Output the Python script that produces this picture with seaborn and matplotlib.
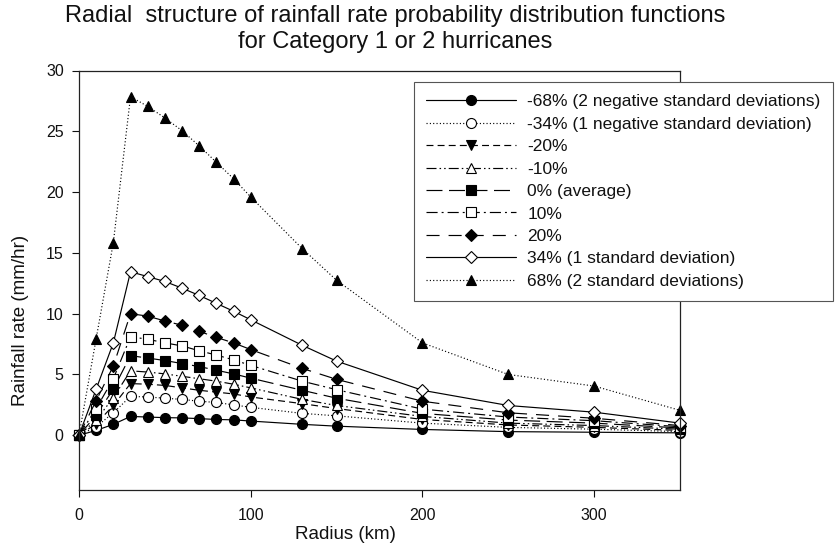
import matplotlib
matplotlib.use("Agg")
import matplotlib.pyplot as plt
import seaborn as sns

# ---- data ----
radius = [0, 10, 20, 30, 40, 50, 60, 70, 80, 90, 100, 130, 150, 200, 250, 300, 350]

neg68 = [0, 0.40, 0.90, 1.55, 1.50, 1.45, 1.43, 1.37, 1.30, 1.27, 1.17, 0.90, 0.75, 0.48, 0.30, 0.25, 0.20]
neg34 = [0, 0.70, 1.85, 3.20, 3.15, 3.05, 2.95, 2.80, 2.70, 2.50, 2.30, 1.80, 1.60, 1.00, 0.65, 0.50, 0.30]
neg20 = [0, 0.95, 2.45, 4.25, 4.20, 4.10, 3.90, 3.70, 3.55, 3.40, 3.15, 2.60, 2.20, 1.30, 0.85, 0.65, 0.40]
neg10 = [0, 1.25, 3.10, 5.30, 5.20, 5.05, 4.85, 4.65, 4.45, 4.20, 3.90, 2.95, 2.45, 1.55, 1.00, 0.80, 0.50]
avg0 = [0, 1.65, 3.80, 6.55, 6.35, 6.15, 5.90, 5.65, 5.35, 5.05, 4.70, 3.70, 3.05, 1.80, 1.25, 1.00, 0.60]
pos10 = [0, 2.20, 4.65, 8.10, 7.90, 7.60, 7.35, 6.95, 6.60, 6.20, 5.75, 4.45, 3.75, 2.15, 1.50, 1.20, 0.70]
pos20 = [0, 2.85, 5.70, 10.0, 9.80, 9.40, 9.05, 8.55, 8.05, 7.60, 7.05, 5.50, 4.60, 2.80, 1.85, 1.40, 0.80]
pos34 = [0, 3.80, 7.60, 13.45, 13.05, 12.65, 12.10, 11.50, 10.85, 10.20, 9.50, 7.40, 6.10, 3.70, 2.45, 1.90, 1.00]
pos68 = [0, 7.95, 15.85, 27.85, 27.05, 26.10, 25.05, 23.80, 22.45, 21.10, 19.60, 15.35, 12.75, 7.60, 5.00, 4.05, 2.05]

series = [neg68, neg34, neg20, neg10, avg0, pos10, pos20, pos34, pos68]
labels = [
    "-68% (2 negative standard deviations)",
    "-34% (1 negative standard deviation)",
    "-20%",
    "-10%",
    "0% (average)",
    "10%",
    "20%",
    "34% (1 standard deviation)",
    "68% (2 standard deviations)",
]

title = ("Radial  structure of rainfall rate probability distribution functions\n"
         "for Category 1 or 2 hurricanes")

# ---- styling ----
sns.set_theme(style="ticks")
plt.rcParams["font.family"] = ["Liberation Sans", "DejaVu Sans"]
plt.rcParams["lines.scale_dashes"] = False

dotted = (0, (0.8, 1.6))
styles = [
    dict(marker="o", markerfacecolor="black", markersize=7.2, linestyle="-"),
    dict(marker="o", markerfacecolor="white", markersize=7.2, linestyle=dotted),
    dict(marker="v", markerfacecolor="black", markersize=7.4, linestyle=(0, (5, 3))),
    dict(marker="^", markerfacecolor="white", markersize=7.4,
         linestyle=(0, (7.2, 2.2, 1.1, 2.2, 1.1, 2.2))),
    dict(marker="s", markerfacecolor="black", markersize=6.5, linestyle=(0, (11.5, 4.7))),
    dict(marker="s", markerfacecolor="white", markersize=6.5,
         linestyle=(0, (8, 2.9, 1.4, 2.9))),
    dict(marker="D", markerfacecolor="black", markersize=5.8, linestyle=(0, (9.4, 6.5))),
    dict(marker="D", markerfacecolor="white", markersize=5.8, linestyle="-"),
    dict(marker="^", markerfacecolor="black", markersize=7.4, linestyle=dotted),
]

fig = plt.figure(figsize=(8.36, 5.49), dpi=100)
ax = fig.add_axes([79 / 836, 59 / 549, 601 / 836, 419.5 / 549])

for vals, lab, st in zip(series, labels, styles):
    sns.lineplot(x=radius, y=vals, ax=ax, color="black", linewidth=0.85,
                 markeredgecolor="black", markeredgewidth=0.8,
                 clip_on=False, label=lab, **st)

ax.set_xlim(0, 350)
ax.set_ylim(-4.5, 30)
ax.set_xticks([0, 100, 200, 300])
ax.set_yticks(list(range(0, 31, 5)))
ax.tick_params(axis="both", direction="out", length=5, width=0.8,
               labelsize=11.5, colors="#111")
ax.tick_params(axis="x", pad=8)
ax.tick_params(axis="y", pad=6)
for sp in ax.spines.values():
    sp.set_visible(True)
    sp.set_linewidth(0.9)
    sp.set_color("#222")

ax.set_xlabel("Radius (km)", fontsize=13.5, color="#111")
ax.set_ylabel("Rainfall rate (mm/hr)", fontsize=13.5, color="#111")
ax.xaxis.label.set_verticalalignment("center")
ax.yaxis.label.set_verticalalignment("center")
ax.xaxis.set_label_coords(0.444, -0.105)
ax.yaxis.set_label_coords(-0.098, 0.405)

handles, labs = ax.get_legend_handles_labels()
leg = ax.legend(handles, labs, loc="upper left",
                bbox_to_anchor=(414 / 836, 1 - 82 / 549),
                bbox_transform=fig.transFigure, borderaxespad=0,
                frameon=True, fancybox=False, framealpha=1,
                edgecolor="#555", fontsize=12.5, handlelength=5.17,
                handletextpad=0.65, borderpad=0.7, labelspacing=0.42,
                numpoints=1)
leg.get_frame().set_linewidth(0.8)
for t in leg.get_texts():
    t.set_color("#111")

fig.text(395 / 836, 1 - 48 / 549, title, ha="center", va="baseline",
         fontsize=17, linespacing=1.25, color="#111")

fig.savefig("out.png", dpi=100)
